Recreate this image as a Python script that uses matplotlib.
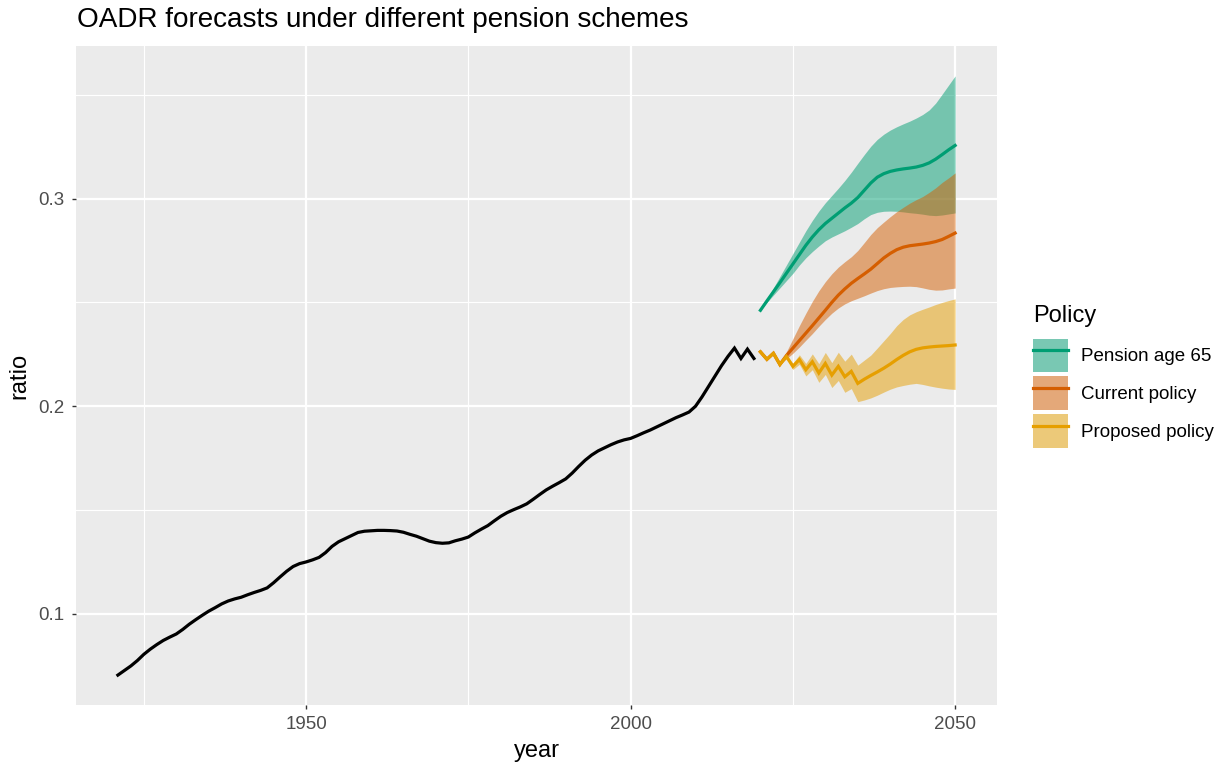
import numpy as np
import matplotlib
matplotlib.use("Agg")
import matplotlib.pyplot as plt
from matplotlib.patches import Patch
from matplotlib.lines import Line2D
from matplotlib.legend_handler import HandlerTuple
from matplotlib.ticker import MultipleLocator

plt.rcParams['font.family'] = ['Liberation Sans', 'DejaVu Sans']

# ---------------- data ----------------
hist_years = list(range(1921, 2020))
hist_ratio = [
    0.0705, 0.0727, 0.0749, 0.0775, 0.0805, 0.0830, 0.0852, 0.0872, 0.0888, 0.0903,
    0.0925, 0.0950, 0.0972, 0.0993, 0.1013, 0.1030, 0.1048, 0.1062, 0.1072, 0.1080,
    0.1092, 0.1103, 0.1113, 0.1125, 0.1150, 0.1178, 0.1205, 0.1228, 0.1242, 0.1250,
    0.1260, 0.1272, 0.1295, 0.1325, 0.1347, 0.1362, 0.1377, 0.1392, 0.1398, 0.1400,
    0.1402, 0.1402, 0.1401, 0.1399, 0.1393, 0.1383, 0.1374, 0.1362, 0.1350, 0.1343,
    0.1340, 0.1342, 0.1352, 0.1360, 0.1370, 0.1390, 0.1408, 0.1425, 0.1448, 0.1470,
    0.1488, 0.1502, 0.1515, 0.1530, 0.1552, 0.1575, 0.1597, 0.1615, 0.1632, 0.1650,
    0.1678, 0.1710, 0.1740, 0.1765, 0.1785, 0.1800, 0.1815, 0.1828, 0.1838, 0.1845,
    0.1858, 0.1872, 0.1885, 0.1900, 0.1915, 0.1930, 0.1945, 0.1958, 0.1972, 0.2000,
    0.2045, 0.2095, 0.2145, 0.2195, 0.2240, 0.2280, 0.2230, 0.2275, 0.2230,
]

fc_years = list(range(2020, 2051))

policies = ["Pension age 65", "Current policy", "Proposed policy"]
legend_title = "Policy"

pension65_mean = [
    0.2462, 0.2507, 0.2551, 0.2595, 0.2640, 0.2685, 0.2730, 0.2775, 0.2815, 0.2850,
    0.2880, 0.2905, 0.2930, 0.2955, 0.2978, 0.3005, 0.3040, 0.3075, 0.3103, 0.3120,
    0.3131, 0.3138, 0.3143, 0.3147, 0.3152, 0.3160, 0.3172, 0.3190, 0.3212, 0.3235,
    0.3256,
]
pension65_upper = [
    0.2462, 0.2515, 0.2570, 0.2625, 0.2680, 0.2735, 0.2790, 0.2845, 0.2895, 0.2940,
    0.2980, 0.3015, 0.3050, 0.3087, 0.3127, 0.3170, 0.3212, 0.3252, 0.3285, 0.3310,
    0.3330, 0.3346, 0.3360, 0.3373, 0.3388, 0.3405, 0.3427, 0.3460, 0.3503, 0.3547,
    0.3591,
]
pension65_lower = [
    0.2462, 0.2500, 0.2535, 0.2570, 0.2605, 0.2640, 0.2680, 0.2715, 0.2745, 0.2772,
    0.2797, 0.2815, 0.2830, 0.2845, 0.2862, 0.2880, 0.2903, 0.2923, 0.2934, 0.2939,
    0.2940, 0.2939, 0.2936, 0.2932, 0.2929, 0.2925, 0.2920, 0.2918, 0.2921, 0.2926,
    0.2931,
]

current_mean = [
    0.2262, 0.2226, 0.2255, 0.2201, 0.2244, 0.2280, 0.2316, 0.2352, 0.2388, 0.2425,
    0.2462, 0.2500, 0.2535, 0.2565, 0.2592, 0.2615, 0.2637, 0.2660, 0.2687, 0.2714,
    0.2736, 0.2754, 0.2766, 0.2773, 0.2777, 0.2781, 0.2786, 0.2793, 0.2803, 0.2818,
    0.2834,
]
current_upper = [
    0.2262, 0.2226, 0.2255, 0.2201, 0.2262, 0.2325, 0.2388, 0.2448, 0.2505, 0.2556,
    0.2600, 0.2638, 0.2670, 0.2696, 0.2720, 0.2750, 0.2788, 0.2827, 0.2860, 0.2887,
    0.2913, 0.2937, 0.2958, 0.2978, 0.2995, 0.3010, 0.3030, 0.3052, 0.3078, 0.3100,
    0.3124,
]
current_lower = [
    0.2262, 0.2226, 0.2255, 0.2201, 0.2228, 0.2255, 0.2285, 0.2318, 0.2350, 0.2385,
    0.2418, 0.2448, 0.2473, 0.2493, 0.2508, 0.2520, 0.2532, 0.2545, 0.2557, 0.2566,
    0.2572, 0.2575, 0.2577, 0.2578, 0.2576, 0.2570, 0.2563, 0.2559, 0.2560, 0.2565,
    0.2569,
]

proposed_mean = [
    0.2262, 0.2226, 0.2255, 0.2201, 0.2240, 0.2192, 0.2225, 0.2176, 0.2214, 0.2160,
    0.2206, 0.2150, 0.2192, 0.2142, 0.2168, 0.2110, 0.2130, 0.2148, 0.2165, 0.2183,
    0.2203, 0.2225, 0.2245, 0.2262, 0.2274, 0.2281, 0.2285, 0.2288, 0.2290, 0.2292,
    0.2295,
]
proposed_upper = [
    0.2262, 0.2226, 0.2255, 0.2201, 0.2248, 0.2207, 0.2248, 0.2206, 0.2252, 0.2205,
    0.2259, 0.2210, 0.2260, 0.2217, 0.2251, 0.2198, 0.2222, 0.2246, 0.2280, 0.2315,
    0.2350, 0.2388, 0.2418, 0.2440, 0.2455, 0.2467, 0.2478, 0.2490, 0.2500, 0.2509,
    0.2517,
]
proposed_lower = [
    0.2262, 0.2226, 0.2255, 0.2201, 0.2232, 0.2177, 0.2202, 0.2146, 0.2176, 0.2115,
    0.2153, 0.2090, 0.2124, 0.2067, 0.2085, 0.2022, 0.2030, 0.2040, 0.2053, 0.2068,
    0.2082, 0.2093, 0.2100, 0.2106, 0.2110, 0.2105, 0.2098, 0.2092, 0.2087, 0.2083,
    0.2081,
]

x_ticks = [1950, 2000, 2050]
y_ticks = [0.1, 0.2, 0.3]

colors = {"Pension age 65": "#009E73", "Current policy": "#D55E00", "Proposed policy": "#E69F00"}
series = {
    "Pension age 65": (pension65_mean, pension65_lower, pension65_upper),
    "Current policy": (current_mean, current_lower, current_upper),
    "Proposed policy": (proposed_mean, proposed_lower, proposed_upper),
}

# ---------------- figure ----------------
W, H = 1227, 765
fig = plt.figure(figsize=(W / 100, H / 100), dpi=100)
ax = fig.add_axes([76 / W, 1 - 705 / H, (997 - 76) / W, (705 - 46) / H])
ax.set_facecolor("#EBEBEB")
for s in ax.spines.values():
    s.set_visible(False)

LW = 2.3
ax.plot(hist_years, hist_ratio, color="black", lw=LW, solid_joinstyle="miter", zorder=3)

for name in policies:
    m, lo, up = series[name]
    ax.fill_between(fc_years, lo, up, color=colors[name], alpha=0.5, lw=0, zorder=2)
for name in policies:
    m, lo, up = series[name]
    ax.plot(fc_years, m, color=colors[name], lw=LW, solid_joinstyle="miter", zorder=4)

handles = []
for name in policies:
    c = np.array(matplotlib.colors.to_rgb(colors[name]))
    blended = 0.5 * c + 0.5 * np.array([0.95, 0.95, 0.95])
    handles.append((Patch(facecolor=blended, edgecolor="none"),
                    Line2D([0], [0], color=colors[name], lw=LW)))

ax.set_xlim(1914.55, 2056.45)
ax.set_ylim(0.0561, 0.3735)
ax.set_xticks(x_ticks)
ax.set_xticklabels([str(t) for t in x_ticks])
ax.set_yticks(y_ticks)
ax.set_yticklabels([f"{t:.1f}" for t in y_ticks])
ax.xaxis.set_minor_locator(MultipleLocator(25))
ax.yaxis.set_minor_locator(MultipleLocator(0.05))

ax.grid(which="major", color="white", lw=1.6)
ax.grid(which="minor", color="white", lw=0.8)
ax.set_axisbelow(True)
ax.tick_params(which="major", length=3.2, width=1.0, color="#333333",
               labelsize=13.5, labelcolor="#4D4D4D")
ax.tick_params(axis="x", which="major", pad=5)
ax.tick_params(axis="y", which="major", pad=5)
ax.tick_params(which="minor", length=0)

ax.set_xlabel("year", fontsize=17, labelpad=5)
ax.set_ylabel("ratio", fontsize=17, labelpad=6)

fig.text(77 / W, 1 - 27 / H, "OADR forecasts under different pension schemes",
         fontsize=20.1, ha="left", va="baseline")

fig.text(1033 / W, 1 - 322 / H, legend_title, fontsize=17, ha="left", va="baseline")
leg = fig.legend(handles=handles, labels=policies,
                 handler_map={tuple: HandlerTuple(ndivide=1, pad=0)},
                 loc="upper left", bbox_to_anchor=(1025 / W, 1 - 331 / H),
                 frameon=False, fontsize=13.5,
                 handlelength=1.87, handleheight=2.41, labelspacing=0.21,
                 handletextpad=0.7, borderaxespad=0)

fig.savefig("out.png", dpi=100)
